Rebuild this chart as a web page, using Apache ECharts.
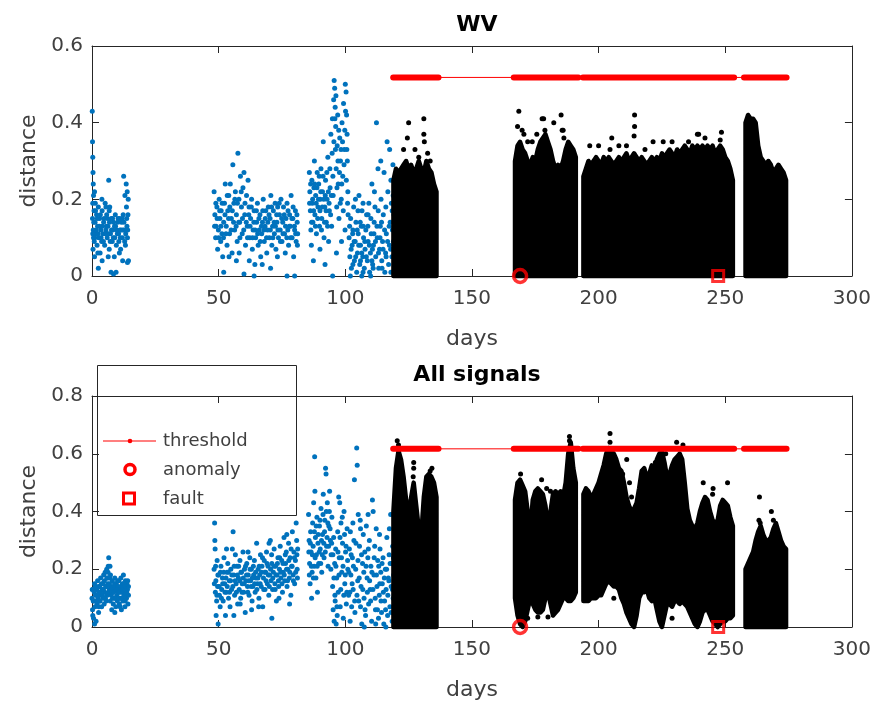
<!DOCTYPE html>
<html><head><meta charset="utf-8">
<script src="https://cdn.jsdelivr.net/npm/echarts@6/dist/echarts.min.js"></script>
<style>html,body{margin:0;padding:0;background:#fff}#c{width:874px;height:702px}</style>
</head><body><div id="c"></div>
<script>
// ---------- data ----------
const xMin = 0, xMax = 300, xStep = 50;
const wvYMax = 0.6, allYMax = 0.8, yStep = 0.2;
const titles = ['WV', 'All signals'];
const xName = 'days', yName = 'distance';
const legendNames = ['threshold', 'anomaly', 'fault'];

const wvThreshold = 0.518;
const allThreshold = 0.617;
const thresholdSpan = [118.9, 274.2];
const thresholdDenseSegments = [[118.9,136.8],[166.5,192.0],[193.8,253.5],[257.4,274.2]];
const anomalyPoint = [169, 0];
const faultPoint = [247.2, 0];

// WV: blue (training) points [day, distance]
const wvBlue = [
[0.1,0.43],[0.2,0.35],[0.3,0.31],[0.4,0.27],[0.5,0.24],[0.6,0.21],[0.3,0.19],[0.8,0.17],[0.2,0.15],[0.5,0.12],[0.9,0.09],[0.4,0.07],[1.0,0.22],[1.2,0.14],[1.5,0.11],[1.8,0.16],[2.0,0.08],[2.2,0.13],[2.5,0.18],[2.7,0.10],[3.0,0.15],[3.2,0.06],[3.5,0.12],[3.8,0.09],[4.0,0.17],[4.3,0.11],[4.6,0.14],[5.0,0.08],[5.2,0.19],[5.5,0.12],[5.8,0.16],[6.0,0.10],[6.3,0.13],[6.6,0.25],[6.8,0.07],[7.0,0.18],[7.3,0.11],[7.6,0.15],[8.0,0.09],[8.2,0.12],[8.5,0.14],[8.8,0.05],[9.0,0.10],[9.3,0.13],[9.6,0.08],[10.0,0.11],[10.3,0.15],[10.6,0.09],[11.0,0.12],[11.3,0.07],[11.6,0.14],[12.0,0.10],[12.3,0.16],[12.5,0.26],[12.8,0.12],[13.0,0.21],[13.2,0.08],[13.5,0.24],[13.6,0.18],[13.8,0.13],[14.0,0.10],[14.2,0.16],[14.4,0.04],[2.5,0.02],[4.0,0.04],[7.5,0.01],[8.5,0.005],[9.5,0.01],[14.0,0.035],[5.5,0.18],[6.8,0.17],[1.0,0.05],
[0.3,0.11],[0.7,0.14],[1.1,0.10],[1.4,0.17],[1.7,0.12],[2.1,0.15],[2.4,0.11],[2.9,0.13],[3.3,0.16],[3.6,0.10],[4.1,0.13],[4.5,0.09],[4.8,0.15],[5.3,0.11],[5.7,0.13],[6.1,0.15],[6.5,0.11],[6.9,0.14],[7.2,0.09],[7.7,0.12],[8.1,0.15],[8.4,0.10],[8.9,0.13],[9.2,0.16],[9.7,0.12],[10.1,0.14],[10.5,0.11],[10.9,0.15],[11.2,0.10],[11.5,0.12],[11.9,0.15],[12.2,0.12],[12.6,0.14],[12.9,0.09],[13.3,0.11],[13.7,0.15],[14.1,0.12],[14.3,0.20],[13.9,0.22],[1.3,0.19],[3.9,0.20],[0.6,0.10],[2.3,0.06],[6.4,0.05],[10.8,0.06],[12.1,0.04],
[48.2,0.22],[48.5,0.16],[48.8,0.10],[49.0,0.13],[49.3,0.18],[49.6,0.07],[49.9,0.12],[50.2,0.20],[50.5,0.15],[50.8,0.09],[51.0,0.17],[51.3,0.11],[51.6,0.05],[52.0,0.14],[52.3,0.19],[52.6,0.24],[53.0,0.13],[53.3,0.08],[53.6,0.17],[54.0,0.21],[54.3,0.11],[54.6,0.24],[55.0,0.15],[55.3,0.06],[55.6,0.29],[56.0,0.19],[56.3,0.12],[56.6,0.22],[57.0,0.16],[57.3,0.09],[57.6,0.32],[58.0,0.20],[58.3,0.14],[58.6,0.26],[59.0,0.18],[59.3,0.11],[59.6,0.23],[60.0,0.27],[60.3,0.16],[60.6,0.08],[61.0,0.21],[61.3,0.13],[61.6,0.25],[62.0,0.18],[62.3,0.10],[62.6,0.15],[63.0,0.20],[63.3,0.07],[63.6,0.12],[64.0,0.17],[64.3,0.03],[64.6,0.10],[65.0,0.14],[65.3,0.19],[65.6,0.08],[66.0,0.12],[66.3,0.16],[66.6,0.05],[67.0,0.11],[67.3,0.14],[67.6,0.20],[68.0,0.09],[68.3,0.13],[68.6,0.17],[69.0,0.06],[69.3,0.12],[69.6,0.18],[70.0,0.10],[70.3,0.15],[70.6,0.21],[71.0,0.08],[71.3,0.13],[71.6,0.17],[72.0,0.11],[72.3,0.19],[72.6,0.07],[73.0,0.14],[73.3,0.18],[73.6,0.10],[74.0,0.16],[74.3,0.12],[74.6,0.20],[75.0,0.09],[75.3,0.14],[75.6,0.18],[76.0,0.11],[76.3,0.06],[76.6,0.15],[77.0,0.19],[77.3,0.12],[77.6,0.08],[78.0,0.16],[78.3,0.13],[78.6,0.21],[79.0,0.10],[79.3,0.15],[79.6,0.05],[80.0,0.12],[80.3,0.17],[80.6,0.09],[81.0,0.14],[81.2,0.11],[52.0,0.01],[60.0,0.005],[64.0,0.0],[77.0,0.0],[80.0,0.0],[57.0,0.04],[70.5,0.02],
[48.4,0.13],[48.9,0.19],[49.4,0.15],[50.0,0.10],[50.4,0.17],[50.9,0.13],[51.4,0.19],[51.9,0.10],[52.5,0.16],[52.9,0.11],[53.4,0.21],[53.9,0.15],[54.4,0.18],[54.9,0.12],[55.4,0.17],[55.9,0.14],[56.4,0.20],[56.9,0.13],[57.4,0.19],[57.9,0.14],[58.4,0.10],[58.9,0.22],[59.4,0.15],[59.9,0.12],[60.4,0.19],[60.9,0.14],[61.4,0.10],[61.9,0.16],[62.4,0.13],[62.9,0.18],[63.4,0.10],[63.9,0.14],[64.4,0.12],[64.9,0.17],[65.4,0.11],[65.9,0.15],[66.4,0.09],[66.9,0.13],[67.4,0.17],[67.9,0.12],[68.4,0.15],[68.9,0.10],[69.4,0.14],[69.9,0.16],[70.4,0.12],[70.9,0.18],[71.4,0.10],[71.9,0.14],[72.4,0.13],[72.9,0.16],[73.4,0.12],[73.9,0.19],[74.4,0.09],[74.9,0.15],[75.4,0.11],[75.9,0.16],[76.4,0.13],[76.9,0.10],[77.4,0.17],[77.9,0.13],[78.4,0.10],[78.9,0.15],[79.4,0.18],[79.9,0.13],[80.4,0.11],[80.9,0.16],[81.1,0.08],[62.1,0.04],[67.2,0.03],[73.2,0.05],[54.1,0.05],[58.1,0.06],
[85.8,0.27],[86.0,0.22],[86.2,0.17],[86.4,0.12],[86.6,0.08],[86.8,0.25],[87.0,0.19],[87.2,0.14],[87.4,0.04],[87.6,0.23],[87.8,0.30],[88.0,0.16],[88.3,0.21],[88.6,0.11],[88.9,0.27],[89.2,0.18],[89.5,0.24],[89.8,0.13],[90.1,0.20],[90.4,0.28],[90.7,0.15],[91.0,0.22],[91.3,0.35],[91.6,0.10],[91.9,0.18],[92.2,0.25],[92.5,0.14],[92.8,0.20],[93.1,0.31],[93.4,0.09],[93.7,0.17],[94.0,0.23],[94.3,0.37],[94.6,0.13],[94.9,0.41],[95.2,0.21],[95.4,0.46],[95.6,0.51],[95.8,0.49],[96.0,0.44],[96.2,0.39],[96.4,0.28],[96.6,0.18],[96.8,0.34],[97.0,0.42],[97.2,0.24],[97.5,0.15],[97.8,0.36],[98.1,0.30],[98.4,0.20],[98.7,0.40],[99.0,0.26],[99.3,0.45],[99.6,0.33],[99.9,0.12],[100.0,0.50],[100.3,0.48],[100.5,0.42],[100.7,0.37],[100.8,0.30],[101.0,0.22],[101.1,0.16],[92.0,0.03],[90.0,0.07],[96.5,0.06],[98.5,0.09],[95.0,0.00],
[85.9,0.19],[86.3,0.24],[86.7,0.14],[87.1,0.20],[87.5,0.17],[87.9,0.24],[88.2,0.13],[88.5,0.19],[88.8,0.23],[89.1,0.15],[89.4,0.20],[89.7,0.26],[90.0,0.17],[90.3,0.22],[90.6,0.12],[90.9,0.18],[91.2,0.26],[91.5,0.20],[91.8,0.14],[92.1,0.21],[92.4,0.17],[92.7,0.27],[93.0,0.13],[93.3,0.22],[93.6,0.19],[93.9,0.28],[94.2,0.16],[94.5,0.21],[94.8,0.32],[95.1,0.26],[95.5,0.35],[95.9,0.41],[96.1,0.33],[96.3,0.47],[96.7,0.23],[97.1,0.30],[97.4,0.38],[97.7,0.27],[98.0,0.19],[98.3,0.33],[98.6,0.24],[98.9,0.35],[99.2,0.17],[99.5,0.29],[99.8,0.38],[100.1,0.43],[100.4,0.25],[100.6,0.33],[100.9,0.19],
[101.5,0.10],[101.8,0.05],[102.1,0.15],[102.4,0.02],[102.7,0.08],[103.0,0.12],[103.3,0.18],[103.6,0.04],[103.9,0.09],[104.2,0.14],[104.5,0.01],[104.8,0.06],[105.1,0.11],[105.4,0.21],[105.7,0.03],[106.0,0.08],[106.3,0.13],[106.6,0.17],[106.9,0.05],[107.2,0.10],[107.5,0.02],[107.8,0.07],[108.1,0.12],[108.4,0.16],[108.7,0.04],[109.0,0.09],[109.3,0.19],[109.6,0.01],[109.9,0.06],[110.2,0.11],[110.5,0.24],[110.8,0.03],[111.1,0.08],[111.4,0.14],[111.7,0.18],[112.0,0.05],[112.3,0.40],[112.6,0.10],[112.9,0.28],[113.2,0.02],[113.5,0.07],[113.8,0.13],[114.1,0.20],[114.4,0.04],[114.7,0.09],[115.0,0.16],[115.3,0.27],[115.6,0.01],[115.9,0.06],[116.2,0.11],[116.5,0.35],[116.8,0.22],[117.1,0.03],[117.4,0.08],[117.7,0.14],[118.0,0.25],[118.2,0.19],[118.4,0.05],[118.6,0.12],[118.8,0.29],[119.0,0.09],[104.0,0.20],[107.0,0.19],[111.5,0.22],[114.0,0.30],[117.5,0.33],[102.0,0.00],[106.5,0.00],[110.0,0.00],[119.2,0.16],[119.4,0.23],
[101.7,0.13],[102.3,0.07],[102.9,0.11],[103.5,0.09],[104.1,0.05],[104.7,0.12],[105.3,0.08],[105.9,0.14],[106.5,0.06],[107.1,0.13],[107.7,0.09],[108.3,0.05],[108.9,0.13],[109.5,0.08],[110.1,0.15],[110.7,0.07],[111.3,0.11],[111.9,0.09],[112.5,0.13],[113.1,0.06],[113.7,0.10],[114.3,0.14],[114.9,0.07],[115.5,0.12],[116.1,0.05],[116.7,0.09],[117.3,0.13],[117.9,0.07],[118.5,0.17],[118.9,0.21],[105.0,0.17],[109.0,0.16],[113.0,0.17],[116.0,0.18],[103.0,0.03],[107.0,0.01],[111.0,0.02],[114.5,0.02],[118.0,0.01],[106.0,0.04],[110.5,0.04]
];

// WV: dense black (test) mass, upper edge per day [day, top]; lower edge is 0
const wvBlackBand = [
[119,0.25],[120,0.28],[121,0.27],[122,0.28],[123,0.29],[124,0.30],[125,0.28],[126,0.29],[127,0.27],[128,0.28],[129,0.30],[130,0.28],[131,0.27],[132,0.30],[133,0.28],[134,0.27],[135,0.24],[136,0.22],
[167,0.30],[168,0.34],[169,0.35],[170,0.33],[171,0.32],[172,0.30],[173,0.29],[174,0.31],[175,0.30],[176,0.33],[177,0.35],[178,0.36],[179,0.37],[180,0.35],[181,0.33],[182,0.30],[183,0.28],[184,0.29],[185,0.28],[186,0.30],[187,0.33],[188,0.35],[189,0.34],[190,0.33],[191,0.31],
[194,0.26],[195,0.28],[196,0.30],[197,0.29],[198,0.30],[199,0.31],[200,0.30],[201,0.29],[202,0.31],[203,0.30],[204,0.31],[205,0.30],[206,0.29],[207,0.30],[208,0.31],[209,0.30],[210,0.31],[211,0.32],[212,0.30],[213,0.31],[214,0.32],[215,0.31],[216,0.30],[217,0.31],[218,0.30],[219,0.29],[220,0.30],[221,0.31],[222,0.30],[223,0.31],[224,0.30],[225,0.32],[226,0.31],[227,0.32],[228,0.33],[229,0.32],[230,0.31],[231,0.33],[232,0.32],[233,0.33],[234,0.34],[235,0.33],[236,0.32],[237,0.34],[238,0.33],[239,0.34],[240,0.33],[241,0.34],[242,0.33],[243,0.34],[244,0.33],[245,0.34],[246,0.32],[247,0.33],[248,0.34],[249,0.33],[250,0.31],[251,0.30],[252,0.28],[253,0.25],
[258,0.40],[259,0.42],[260,0.41],[261,0.41],[262,0.40],[263,0.34],[264,0.31],[265,0.30],[266,0.29],[267,0.30],[268,0.29],[269,0.27],[270,0.28],[271,0.29],[272,0.28],[273,0.27],[274,0.25]
];
const wvBlackOutliers = [
[123,0.33],[124.5,0.36],[125,0.40],[127.5,0.33],[129,0.31],[131,0.41],[131,0.37],[131.2,0.35],[132.5,0.32],[133.5,0.30],[168.5,0.43],[168,0.39],[169.8,0.38],[170.5,0.37],[172,0.35],[173.8,0.35],[175.6,0.37],[177.7,0.41],[178.3,0.41],[178.8,0.38],[182.3,0.40],[185.2,0.42],[185.6,0.38],[186,0.38],[186.3,0.36],[196.5,0.34],[200,0.34],[204.5,0.33],[205.2,0.36],[208,0.34],[211,0.34],[214.2,0.42],[214.2,0.39],[214,0.365],[218.3,0.33],[221.5,0.35],[225.5,0.35],[229,0.35],[235.5,0.35],[239,0.37],[239.5,0.37],[242,0.36],[248.5,0.375],[248,0.355]
];

// All signals: blue (training) points [day, distance]
const allBlue = [
[0.0,0.10],[0.2,0.06],[0.4,0.13],[0.6,0.03],[0.8,0.09],[1.0,0.15],[1.2,0.07],[1.4,0.11],[1.6,0.02],[1.8,0.13],[2.0,0.08],[2.2,0.16],[2.4,0.10],[2.6,0.05],[2.8,0.12],[3.0,0.14],[3.2,0.09],[3.4,0.17],[3.6,0.11],[3.8,0.07],[4.0,0.13],[4.2,0.15],[4.4,0.10],[4.6,0.18],[4.8,0.08],[5.0,0.12],[5.2,0.19],[5.4,0.14],[5.6,0.09],[5.8,0.20],[6.0,0.11],[6.2,0.15],[6.4,0.21],[6.6,0.24],[6.8,0.13],[7.0,0.17],[7.2,0.09],[7.4,0.14],[7.6,0.11],[7.8,0.06],[8.0,0.16],[8.2,0.12],[8.4,0.08],[8.6,0.14],[8.8,0.10],[9.0,0.17],[9.2,0.13],[9.4,0.07],[9.6,0.15],[9.8,0.11],[10.0,0.09],[10.2,0.14],[10.4,0.12],[10.6,0.16],[10.8,0.08],[11.0,0.13],[11.2,0.10],[11.4,0.17],[11.6,0.06],[11.8,0.12],[12.0,0.15],[12.2,0.09],[12.4,0.18],[12.6,0.11],[12.8,0.14],[13.0,0.07],[13.2,0.16],[13.4,0.12],[13.6,0.10],[13.8,0.15],[14.0,0.13],[14.2,0.08],[14.4,0.11],[1.0,0.01],[9.0,0.05],
[0.1,0.13],[0.5,0.09],[0.9,0.12],[1.3,0.14],[1.7,0.09],[2.1,0.11],[2.5,0.14],[2.9,0.09],[3.3,0.12],[3.7,0.15],[4.1,0.11],[4.5,0.13],[4.9,0.16],[5.3,0.10],[5.7,0.14],[6.1,0.17],[6.5,0.12],[6.9,0.15],[7.3,0.18],[7.7,0.13],[8.1,0.10],[8.5,0.12],[8.9,0.15],[9.3,0.10],[9.7,0.13],[10.1,0.16],[10.5,0.10],[10.9,0.12],[11.3,0.14],[11.7,0.10],[12.1,0.13],[12.5,0.15],[12.9,0.11],[13.3,0.14],[13.7,0.12],[14.1,0.16],[14.4,0.14],[6.3,0.19],[7.1,0.21],[5.9,0.17],[0.3,0.04],[2.7,0.07],[11.1,0.07],[13.1,0.09],
[48.2,0.20],[48.4,0.36],[48.5,0.30],[48.6,0.27],[48.7,0.12],[48.9,0.16],[49.0,0.04],[49.2,0.09],[49.4,0.23],[49.6,0.14],[49.8,0.01],[50.0,0.18],[50.3,0.11],[50.6,0.07],[50.9,0.21],[51.2,0.13],[51.5,0.17],[51.8,0.09],[52.1,0.24],[52.4,0.15],[52.7,0.04],[53.0,0.12],[53.3,0.19],[53.6,0.22],[53.9,0.10],[54.2,0.16],[54.5,0.07],[54.8,0.20],[55.1,0.13],[55.4,0.27],[55.7,0.33],[56.0,0.18],[56.3,0.11],[56.6,0.25],[56.9,0.15],[57.2,0.21],[57.5,0.08],[57.8,0.17],[58.1,0.13],[58.4,0.23],[58.7,0.10],[59.0,0.19],[59.3,0.15],[59.6,0.26],[59.9,0.12],[60.2,0.20],[60.5,0.05],[60.8,0.16],[61.1,0.22],[61.4,0.14],[61.7,0.18],[62.0,0.11],[62.3,0.24],[62.6,0.16],[62.9,0.20],[63.2,0.09],[63.5,0.14],[63.8,0.18],[64.1,0.23],[64.4,0.12],[64.7,0.17],[65.0,0.29],[65.3,0.15],[65.6,0.20],[65.9,0.10],[66.2,0.18],[66.5,0.25],[66.8,0.14],[67.1,0.21],[67.4,0.07],[67.7,0.17],[68.0,0.23],[68.3,0.13],[68.6,0.19],[68.9,0.26],[69.2,0.15],[69.5,0.21],[69.8,0.11],[70.1,0.18],[70.4,0.30],[70.7,0.16],[71.0,0.22],[71.3,0.13],[71.6,0.19],[71.9,0.27],[72.2,0.15],[72.5,0.21],[72.8,0.09],[73.1,0.18],[73.4,0.24],[73.7,0.14],[74.0,0.20],[74.3,0.28],[74.6,0.17],[74.9,0.23],[75.2,0.12],[75.5,0.19],[75.8,0.31],[76.1,0.16],[76.4,0.22],[76.7,0.26],[77.0,0.14],[77.3,0.20],[77.6,0.29],[77.9,0.17],[78.2,0.24],[78.5,0.11],[78.8,0.21],[79.1,0.33],[79.4,0.18],[79.7,0.26],[80.0,0.15],[80.3,0.23],[80.6,0.36],[80.8,0.30],[81.0,0.20],[81.2,0.27],[56.0,0.04],[63.0,0.06],[71.0,0.03],[78.0,0.08],
[48.3,0.15],[48.8,0.21],[49.3,0.11],[49.7,0.18],[50.2,0.14],[50.7,0.19],[51.1,0.10],[51.6,0.15],[52.0,0.19],[52.5,0.12],[52.9,0.17],[53.4,0.14],[53.8,0.19],[54.3,0.12],[54.7,0.16],[55.2,0.18],[55.6,0.14],[56.1,0.21],[56.5,0.16],[57.0,0.12],[57.4,0.18],[57.9,0.21],[58.3,0.16],[58.8,0.19],[59.2,0.12],[59.7,0.17],[60.1,0.15],[60.6,0.21],[61.0,0.18],[61.5,0.12],[61.9,0.16],[62.4,0.20],[62.8,0.14],[63.3,0.17],[63.7,0.21],[64.2,0.15],[64.6,0.19],[65.1,0.13],[65.5,0.17],[66.0,0.21],[66.4,0.15],[66.9,0.19],[67.3,0.24],[67.8,0.13],[68.2,0.19],[68.7,0.16],[69.1,0.22],[69.6,0.18],[70.0,0.14],[70.5,0.20],[70.9,0.25],[71.4,0.17],[71.8,0.21],[72.3,0.13],[72.7,0.18],[73.2,0.22],[73.6,0.16],[74.1,0.24],[74.5,0.19],[75.0,0.15],[75.4,0.22],[75.9,0.18],[76.3,0.25],[76.8,0.20],[77.2,0.16],[77.7,0.23],[78.1,0.19],[78.6,0.27],[79.0,0.21],[79.5,0.16],[79.9,0.24],[80.4,0.19],[80.9,0.25],[81.1,0.17],[53.1,0.27],[61.6,0.26],[69.9,0.29],[76.9,0.32],[58.5,0.08],[65.8,0.07],[73.8,0.10],
[85.5,0.39],[85.7,0.30],[85.9,0.22],[86.1,0.15],[86.3,0.33],[86.5,0.26],[86.7,0.10],[86.9,0.19],[87.1,0.36],[87.3,0.28],[87.5,0.43],[87.7,0.21],[87.9,0.59],[88.0,0.47],[88.2,0.31],[88.4,0.17],[88.6,0.25],[88.8,0.38],[89.0,0.12],[89.2,0.29],[89.5,0.22],[89.8,0.35],[90.1,0.27],[90.4,0.41],[90.7,0.19],[91.0,0.32],[91.3,0.46],[91.6,0.24],[91.9,0.37],[92.2,0.55],[92.4,0.53],[92.6,0.28],[92.9,0.43],[93.2,0.21],[93.5,0.35],[93.8,0.47],[94.1,0.30],[94.4,0.25],[94.7,0.38],[95.0,0.14],[95.2,0.06],[95.4,0.31],[95.6,0.02],[95.8,0.22],[96.0,0.09],[96.2,0.27],[96.4,0.01],[96.6,0.17],[96.8,0.04],[97.0,0.33],[97.2,0.12],[97.4,0.45],[97.6,0.24],[97.8,0.43],[98.0,0.07],[98.3,0.36],[98.6,0.19],[98.9,0.29],[99.2,0.03],[99.5,0.40],[99.8,0.15],[100.1,0.26],[100.4,0.08],[100.7,0.34],[101.0,0.20],
[85.6,0.26],[85.8,0.18],[86.2,0.29],[86.6,0.21],[87.0,0.25],[87.4,0.17],[87.8,0.33],[88.1,0.24],[88.5,0.35],[88.9,0.21],[89.3,0.32],[89.7,0.26],[90.0,0.37],[90.3,0.22],[90.6,0.30],[90.9,0.25],[91.2,0.39],[91.5,0.29],[91.8,0.33],[92.1,0.26],[92.5,0.40],[92.8,0.31],[93.1,0.36],[93.4,0.28],[93.7,0.40],[94.0,0.34],[94.3,0.20],[94.6,0.29],[95.1,0.25],[95.5,0.17],[95.9,0.11],[96.3,0.21],[96.7,0.07],[97.1,0.26],[97.5,0.18],[97.9,0.31],[98.2,0.13],[98.5,0.24],[98.8,0.38],[99.1,0.21],[99.4,0.11],[99.7,0.32],[100.0,0.18],[100.3,0.28],[100.6,0.12],[100.9,0.23],
[101.3,0.11],[101.6,0.27],[101.9,0.02],[102.2,0.18],[102.5,0.07],[102.8,0.24],[103.1,0.13],[103.4,0.30],[103.6,0.51],[103.8,0.05],[104.1,0.20],[104.5,0.62],[104.7,0.56],[104.9,0.16],[105.1,0.39],[105.3,0.09],[105.6,0.28],[105.9,0.37],[106.2,0.14],[106.5,0.01],[106.8,0.22],[107.1,0.32],[107.4,0.10],[107.7,0.26],[108.0,0.04],[108.3,0.35],[108.6,0.17],[108.9,0.24],[109.2,0.08],[109.5,0.30],[109.8,0.13],[110.1,0.21],[110.4,0.02],[110.7,0.44],[111.0,0.40],[111.3,0.18],[111.6,0.28],[111.9,0.06],[112.2,0.34],[112.5,0.14],[112.8,0.23],[113.1,0.03],[113.4,0.11],[113.7,0.27],[114.0,0.19],[114.3,0.05],[114.6,0.15],[114.9,0.24],[115.2,0.01],[115.5,0.09],[115.8,0.20],[116.1,0.13],[116.4,0.31],[116.7,0.04],[117.0,0.17],[117.3,0.25],[117.6,0.07],[117.9,0.39],[118.1,0.14],[118.3,0.22],[118.5,0.02],[118.7,0.28],[118.9,0.10],[119.1,0.18],[102.0,0.33],[107.5,0.00],[112.0,0.01],[116.0,0.00],
[101.4,0.19],[101.8,0.12],[102.3,0.25],[102.7,0.15],[103.2,0.21],[103.7,0.09],[104.2,0.29],[104.6,0.11],[105.0,0.23],[105.5,0.17],[106.0,0.07],[106.4,0.25],[106.9,0.13],[107.3,0.19],[107.8,0.06],[108.2,0.21],[108.7,0.12],[109.1,0.27],[109.6,0.16],[110.0,0.09],[110.5,0.19],[110.9,0.13],[111.4,0.24],[111.8,0.10],[112.3,0.18],[112.7,0.06],[113.2,0.21],[113.6,0.15],[114.1,0.09],[114.5,0.22],[115.0,0.12],[115.4,0.17],[115.9,0.06],[116.3,0.20],[116.8,0.11],[117.2,0.16],[117.7,0.22],[118.1,0.05],[118.6,0.13],[119.0,0.24],[103.0,0.36],[106.0,0.34],[109.0,0.39],[113.5,0.32],[117.4,0.34]
];

// All signals: dense black mass per day [day, top, bottom]
const allBlackBand = [
[119,0.40,0],[120,0.55,0],[121,0.61,0],[122,0.58,0],[123,0.52,0],[124,0.44,0],[125,0.38,0],[126,0.45,0],[127,0.50,0],[128,0.42,0],[129,0.34,0],[130,0.32,0],[131,0.45,0],[132,0.52,0],[133,0.53,0],[134,0.52,0],[135,0.50,0],[136,0.45,0],
[167,0.44,0.10],[168,0.50,0.04],[169,0.51,0.01],[170,0.49,0.00],[171,0.47,0.02],[172,0.40,0.06],[173,0.33,0.10],[174,0.44,0.08],[175,0.47,0.06],[176,0.48,0.05],[177,0.47,0.05],[178,0.46,0.06],[179,0.42,0.10],[180,0.35,0.12],[181,0.40,0.08],[182,0.46,0.04],[183,0.47,0.05],[184,0.46,0.06],[185,0.47,0.08],[186,0.45,0.10],[187,0.50,0.10],[188,0.60,0.09],[189,0.64,0.09],[190,0.55,0.10],[191,0.50,0.12],
[194,0.46,0.09],[195,0.48,0.09],[196,0.47,0.09],[197,0.45,0.10],[198,0.46,0.10],[199,0.48,0.10],[200,0.50,0.11],[201,0.53,0.11],[202,0.56,0.13],[203,0.60,0.15],[204,0.62,0.16],[205,0.61,0.15],[206,0.60,0.14],[207,0.58,0.14],[208,0.55,0.13],[209,0.54,0.10],[210,0.50,0.08],[211,0.45,0.05],[212,0.42,0.03],[213,0.40,0.01],[214,0.41,0.00],[215,0.43,0.04],[216,0.48,0.10],[217,0.54,0.12],[218,0.55,0.12],[219,0.52,0.13],[220,0.53,0.10],[221,0.56,0.09],[222,0.55,0.10],[223,0.58,0.06],[224,0.60,0.02],[225,0.61,0.00],[226,0.57,0.04],[227,0.52,0.08],[228,0.53,0.08],[229,0.56,0.07],[230,0.58,0.09],[231,0.59,0.09],[232,0.60,0.08],[233,0.58,0.09],[234,0.50,0.08],[235,0.41,0.07],[236,0.37,0.05],[237,0.35,0.03],[238,0.34,0.01],[239,0.36,0.00],[240,0.40,0.02],[241,0.43,0.05],[242,0.45,0.06],[243,0.44,0.06],[244,0.40,0.04],[245,0.37,0.02],[246,0.36,0.01],[247,0.37,0.00],[248,0.42,0.01],[249,0.44,0.02],[250,0.43,0.02],[251,0.42,0.03],[252,0.38,0.03],[253,0.35,0.04],
[258,0.20,0],[259,0.22,0],[260,0.24,0],[261,0.26,0],[262,0.30,0],[263,0.33,0],[264,0.35,0],[265,0.32,0],[266,0.30,0],[267,0.30,0],[268,0.31,0],[269,0.34,0],[270,0.36,0],[271,0.33,0],[272,0.30,0],[273,0.28,0],[274,0.27,0]
];
const allBlackOutliers = [
[120.5,0.645],[121,0.63],[127,0.57],[127,0.55],[126.8,0.52],[133.5,0.54],[134.2,0.55],[169.2,0.53],[177.5,0.51],[179.5,0.48],[181,0.47],[188.5,0.66],[188.5,0.645],[176,0.035],[180,0.035],[172,0.03],[204.5,0.67],[204.5,0.64],[209.5,0.53],[211.1,0.58],[212.2,0.50],[213,0.45],[217.5,0.54],[222.4,0.57],[226.5,0.60],[230.8,0.64],[233.3,0.63],[241.3,0.50],[245.2,0.48],[245,0.46],[250.9,0.50],[206,0.10],[229,0.03],[263.5,0.45],[263.3,0.37],[263.8,0.36],[268.2,0.40],[269,0.37]
];

// ---------- chart ----------
const FONT = 'DejaVu Sans';
const AX = '#262626', TXT = '#404040';
const BLUE = '#0072BD', RED = '#FF0000';
const grids = [
  {left: 92, width: 760, top: 46, height: 230},
  {left: 92, width: 760, top: 396, height: 231}
];
const yMaxes = [wvYMax, allYMax];

function axisBase(show) {
  return {
    axisLine: {show: true, onZero: false, lineStyle: {color: AX, width: 1}},
    axisTick: {show: true, inside: true, length: 7, lineStyle: {color: AX}},
    axisLabel: {show: show, color: TXT, fontSize: 20, fontFamily: FONT},
    splitLine: {show: false}
  };
}
const xAxes = [], yAxes = [];
[0, 1].forEach(g => {
  xAxes.push(Object.assign(axisBase(true), {gridIndex: g, type: 'value', min: xMin, max: xMax, interval: xStep, position: 'bottom',
    name: xName, nameLocation: 'middle', nameGap: 52, nameTextStyle: {color: TXT, fontSize: 22, fontFamily: FONT}}));
  xAxes.push(Object.assign(axisBase(false), {gridIndex: g, type: 'value', min: xMin, max: xMax, interval: xStep, position: 'top'}));
  yAxes.push(Object.assign(axisBase(true), {gridIndex: g, type: 'value', min: 0, max: yMaxes[g], interval: yStep, position: 'left',
    name: yName, nameLocation: 'middle', nameGap: 52, nameTextStyle: {color: TXT, fontSize: 22, fontFamily: FONT}}));
  yAxes.push(Object.assign(axisBase(false), {gridIndex: g, type: 'value', min: 0, max: yMaxes[g], interval: yStep, position: 'right'}));
});
xAxes.forEach(a => { a.axisLabel.margin = 13; });
yAxes.forEach(a => { a.axisLabel.margin = 9; });

// split a per-day band into contiguous blocks
function splitBlocks(band) {
  const out = []; let cur = [];
  band.forEach((r, i) => {
    if (i > 0 && r[0] - band[i - 1][0] > 1.5) { out.push(cur); cur = []; }
    cur.push(r);
  });
  out.push(cur);
  return out;
}

const series = [];
const sets = [
  {blue: wvBlue, band: wvBlackBand.map(r => [r[0], r[1], 0]), out: wvBlackOutliers, thr: wvThreshold},
  {blue: allBlue, band: allBlackBand, out: allBlackOutliers, thr: allThreshold}
];
sets.forEach((s, g) => {
  const xi = g * 2, yi = g * 2;
  const blocks = splitBlocks(s.band);
  series.push({type: 'scatter', xAxisIndex: xi, yAxisIndex: yi, data: s.blue, symbol: 'circle', symbolSize: 5,
    itemStyle: {color: BLUE, opacity: 1}, silent: true, z: 2});
  // one filled polygon per contiguous block: upper edge left->right, lower edge right->left
  series.push({type: 'custom', xAxisIndex: xi, yAxisIndex: yi, silent: true, z: 3,
    data: blocks.map((b, k) => [b[0][0], b[0][1], k]),
    encode: {x: 0, y: 1},
    renderItem: function (params, api) {
      const blk = blocks[api.value(2)];
      const upper = blk.map(r => api.coord([r[0], r[1]]));
      const lower = blk.slice().reverse().map(r => api.coord([r[0], r[2]]));
      return {type: 'polygon', shape: {points: upper.concat(lower)},
        style: {fill: '#000', stroke: '#000', lineWidth: 4.5, lineJoin: 'round'}};
    }});
  series.push({type: 'scatter', xAxisIndex: xi, yAxisIndex: yi, data: s.out, symbol: 'circle', symbolSize: 5,
    itemStyle: {color: '#000', opacity: 1}, silent: true, z: 4});
  series.push({type: 'line', name: 'threshold', xAxisIndex: xi, yAxisIndex: yi,
    data: [[thresholdSpan[0], s.thr], [thresholdSpan[1], s.thr]], symbol: 'none',
    lineStyle: {color: RED, width: 1}, silent: true, z: 5});
  thresholdDenseSegments.forEach(seg => {
    series.push({type: 'line', xAxisIndex: xi, yAxisIndex: yi,
      data: [[seg[0], s.thr], [seg[1], s.thr]], symbol: 'none',
      lineStyle: {color: RED, width: 6, cap: 'round'}, silent: true, z: 5});
  });
  series.push({type: 'scatter', name: 'anomaly', xAxisIndex: xi, yAxisIndex: yi, data: [anomalyPoint], symbol: 'circle', symbolSize: 13,
    itemStyle: {color: 'rgba(0,0,0,0)', borderColor: RED, borderWidth: 3.5}, silent: true, z: 6});
  series.push({type: 'scatter', name: 'fault', xAxisIndex: xi, yAxisIndex: yi, data: [faultPoint], symbol: 'rect', symbolSize: 11,
    itemStyle: {color: 'rgba(0,0,0,0)', borderColor: RED, borderWidth: 3}, silent: true, z: 6});
});

const legendFont = {fontSize: 18, fontFamily: FONT, fill: TXT};
const option = {
  animation: false,
  backgroundColor: '#fff',
  title: [
    {text: titles[0], left: 472, top: 9, textAlign: 'center', textStyle: {fontSize: 22, fontWeight: 'bold', color: '#000', fontFamily: FONT}},
    {text: titles[1], left: 472, top: 359, textAlign: 'center', textStyle: {fontSize: 22, fontWeight: 'bold', color: '#000', fontFamily: FONT}}
  ],
  grid: grids,
  xAxis: xAxes,
  yAxis: yAxes,
  series: series,
  graphic: [
    {type: 'group', z: 100, children: [
      {type: 'rect', shape: {x: 97.5, y: 365.5, width: 199, height: 150}, style: {fill: '#fff', stroke: AX, lineWidth: 1}},
      {type: 'line', shape: {x1: 103, y1: 441, x2: 156, y2: 441}, style: {stroke: RED, lineWidth: 1.2}},
      {type: 'circle', shape: {cx: 130, cy: 441, r: 2.3}, style: {fill: RED}},
      {type: 'circle', shape: {cx: 130, cy: 469.5, r: 5}, style: {fill: 'none', stroke: RED, lineWidth: 3.5}},
      {type: 'rect', shape: {x: 123.5, y: 493, width: 11, height: 11}, style: {fill: 'none', stroke: RED, lineWidth: 3}},
      {type: 'text', x: 163, y: 441, style: Object.assign({text: legendNames[0], verticalAlign: 'middle'}, legendFont)},
      {type: 'text', x: 163, y: 470, style: Object.assign({text: legendNames[1], verticalAlign: 'middle'}, legendFont)},
      {type: 'text', x: 163, y: 499, style: Object.assign({text: legendNames[2], verticalAlign: 'middle'}, legendFont)}
    ]}
  ]
};
const chart = echarts.init(document.getElementById('c'), null, {renderer: 'canvas'});
chart.setOption(option);
</script>
</body></html>
